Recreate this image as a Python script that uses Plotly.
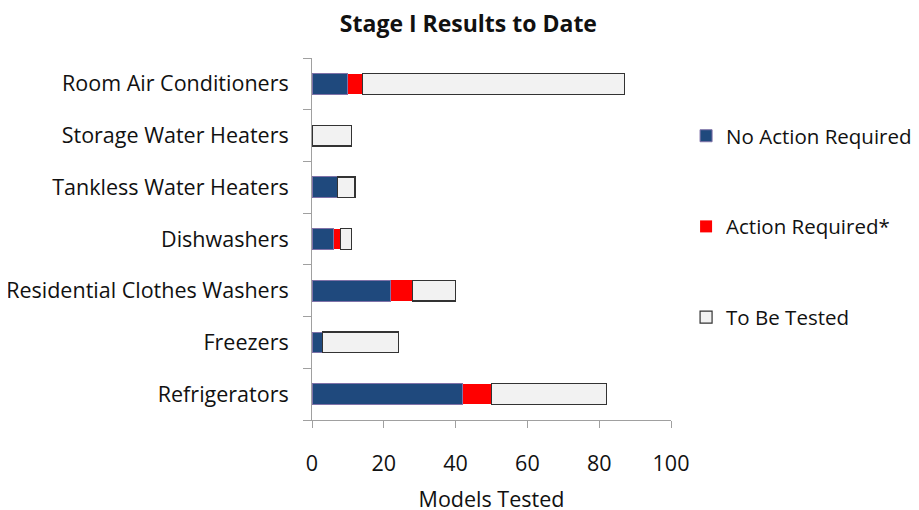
import plotly.graph_objects as go

categories = ["Refrigerators", "Freezers", "Residential Clothes Washers", "Dishwashers",
              "Tankless Water Heaters", "Storage Water Heaters", "Room Air Conditioners"]
no_action = [42, 3, 22, 6, 7, 0, 10]
action_required = [8, 0, 6, 2, 0, 0, 4]
to_be_tested = [32, 21, 12, 3, 5, 11, 73]

font_family = "Open Sans, Lato, sans-serif"

fig = go.Figure()
fig.add_trace(go.Bar(y=categories, x=no_action, orientation="h", name="No Action Required",
                     marker=dict(color="#1F497D", line=dict(color="#7F72A8", width=1)),
                     legendgroup="a"))
fig.add_trace(go.Bar(y=categories, x=action_required, orientation="h", name="Action Required*",
                     marker=dict(color="#FF0000", line=dict(color="#FF0000", width=0)),
                     legendgroup="b"))
fig.add_trace(go.Bar(y=categories, x=to_be_tested, orientation="h", name="To Be Tested",
                     marker=dict(color="#F2F2F2", line=dict(color="#333333", width=1.2)),
                     legendgroup="c"))

fig.update_layout(
    width=919, height=510,
    barmode="stack", bargap=0.6,
    paper_bgcolor="white", plot_bgcolor="white",
    margin=dict(l=304, r=256, t=50, b=98, autoexpand=False),
    font=dict(family=font_family, size=21.5, color="#111111"),
    title=dict(text="<b>Stage I Results to Date</b>", x=0.501, xanchor="center",
               y=0.969, yanchor="middle", font=dict(size=23, color="#111111")),
    legend=dict(x=1.042, xanchor="left", y=0.84, yanchor="top",
                traceorder="grouped", tracegroupgap=61,
                font=dict(size=20.5), itemwidth=30, bgcolor="rgba(0,0,0,0)"),
    showlegend=True,
)
fig.update_xaxes(range=[0, 100], tickvals=[0, 20, 40, 60, 80, 100],
                 showgrid=False, zeroline=False, showline=True, linecolor="#A0A0A0", linewidth=1,
                 ticks="outside", ticklen=7, tickcolor="#A0A0A0", ticklabelstandoff=17,
                 title=dict(text="Models Tested", standoff=16, font=dict(size=21.5)),
                 tickfont=dict(size=21.5))
fig.update_yaxes(type="category", showgrid=False, showline=True, linecolor="#A0A0A0", linewidth=1,
                 ticks="outside", ticklen=8, tickcolor="#A0A0A0", tickson="boundaries",
                 ticklabelstandoff=18, tickfont=dict(size=21.5))

fig.write_html("out.html")
